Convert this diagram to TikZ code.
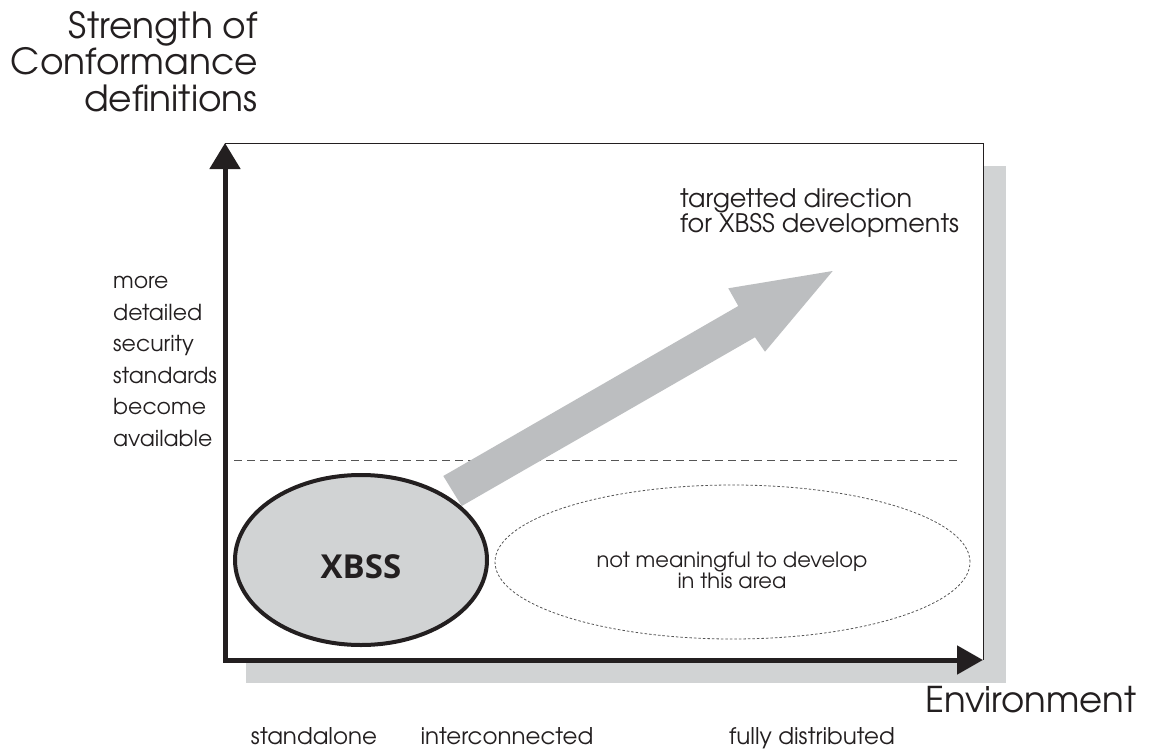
\documentclass[tikz,border=0pt]{standalone}
\usepackage{fontspec}
\setmainfont{TeX Gyre Adventor}
\newfontfamily\xbfont{Open Sans}
\usetikzlibrary{arrows.meta,shapes.geometric}
\definecolor{shadowgray}{HTML}{D1D3D4}
\definecolor{arrowgray}{HTML}{BCBEC0}
\definecolor{inkblack}{HTML}{231F20}
\definecolor{dashgray}{HTML}{555555}
\tikzset{
  lbl/.style={inner sep=0pt, text=inkblack},
  envlbl/.style={lbl, anchor=base, font=\fontsize{23}{25}\selectfont},
  axisline/.style={line width=5pt, draw=inkblack, line join=miter,
     {Triangle[length=26pt,width=30pt,fill=inkblack]}-{Triangle[length=26pt,width=28pt,fill=inkblack]}},
}
\begin{document}
\begin{tikzpicture}[x=1pt,y=-1pt]
\useasboundingbox (0,0) rectangle (1152,752);
% coordinates
\coordinate (O) at (225,660);
\coordinate (Ytip) at (225,143);
\coordinate (Xtip) at (983,660);
\coordinate (TR) at (983,143);
\coordinate (DL) at (234,460.5);
\coordinate (DR) at (957,460.5);
% shadow and panel
\fill[shadowgray] (246,166) rectangle (1006,683);
\fill[white] (Ytip) rectangle (Xtip);
\draw[inkblack, line width=1pt] (Ytip) -- (TR) -- (Xtip);
% dashed level line
\draw[dashgray, line width=0.9pt, dash pattern=on 8pt off 5pt] (DL) -- (DR);
% big gray arrow
\fill[arrowgray] (443.3,476) -- (738.3,306) -- (728.3,288.3) -- (832.7,271)
   -- (765,351.7) -- (755,337.3) -- (461.7,506) -- cycle;
% ellipses
\node[draw=inkblack, line width=4pt, fill=shadowgray, ellipse, minimum width=252pt, minimum height=170pt, inner sep=0pt] (xbss) at (361,560) {};
\node[draw=dashgray, line width=0.8pt, dash pattern=on 2.5pt off 2pt, ellipse, minimum width=475pt, minimum height=154pt, inner sep=0pt] (notm) at (732.5,562) {};
\node[lbl, font=\xbfont\bfseries\fontsize{33}{36}\selectfont] (xbsstext) at (361,567) {XBSS};
\node[lbl, align=center, font=\fontsize{21}{19.5}\selectfont] (notmtext) at (732,570) {not meaningful to develop\\in this area};
% axes
\draw[axisline] (Ytip) -- (O) -- (Xtip);
% labels
\node[lbl, align=right, anchor=north east, font=\fontsize{36}{36.5}\selectfont] (ylabel) at (258,11) {Strength of\\Conformance\\definitions};
\node[lbl, align=left, anchor=north west, font=\fontsize{22}{31.6}\selectfont] (more) at (113,276) {more\\detailed\\security\\standards\\become\\available};
\node[lbl, align=left, anchor=north west, font=\fontsize{25.5}{25}\selectfont] (target) at (680,188) {targetted direction\\for XBSS developments};
\node[lbl, anchor=base west, font=\fontsize{35.5}{38}\selectfont] (env) at (925,712) {Environment};
\node[envlbl] (s1) at (314,744) {standalone};
\node[envlbl] (s2) at (507,744) {interconnected};
\node[envlbl] (s3) at (812,744) {fully distributed};
\end{tikzpicture}
\end{document}
